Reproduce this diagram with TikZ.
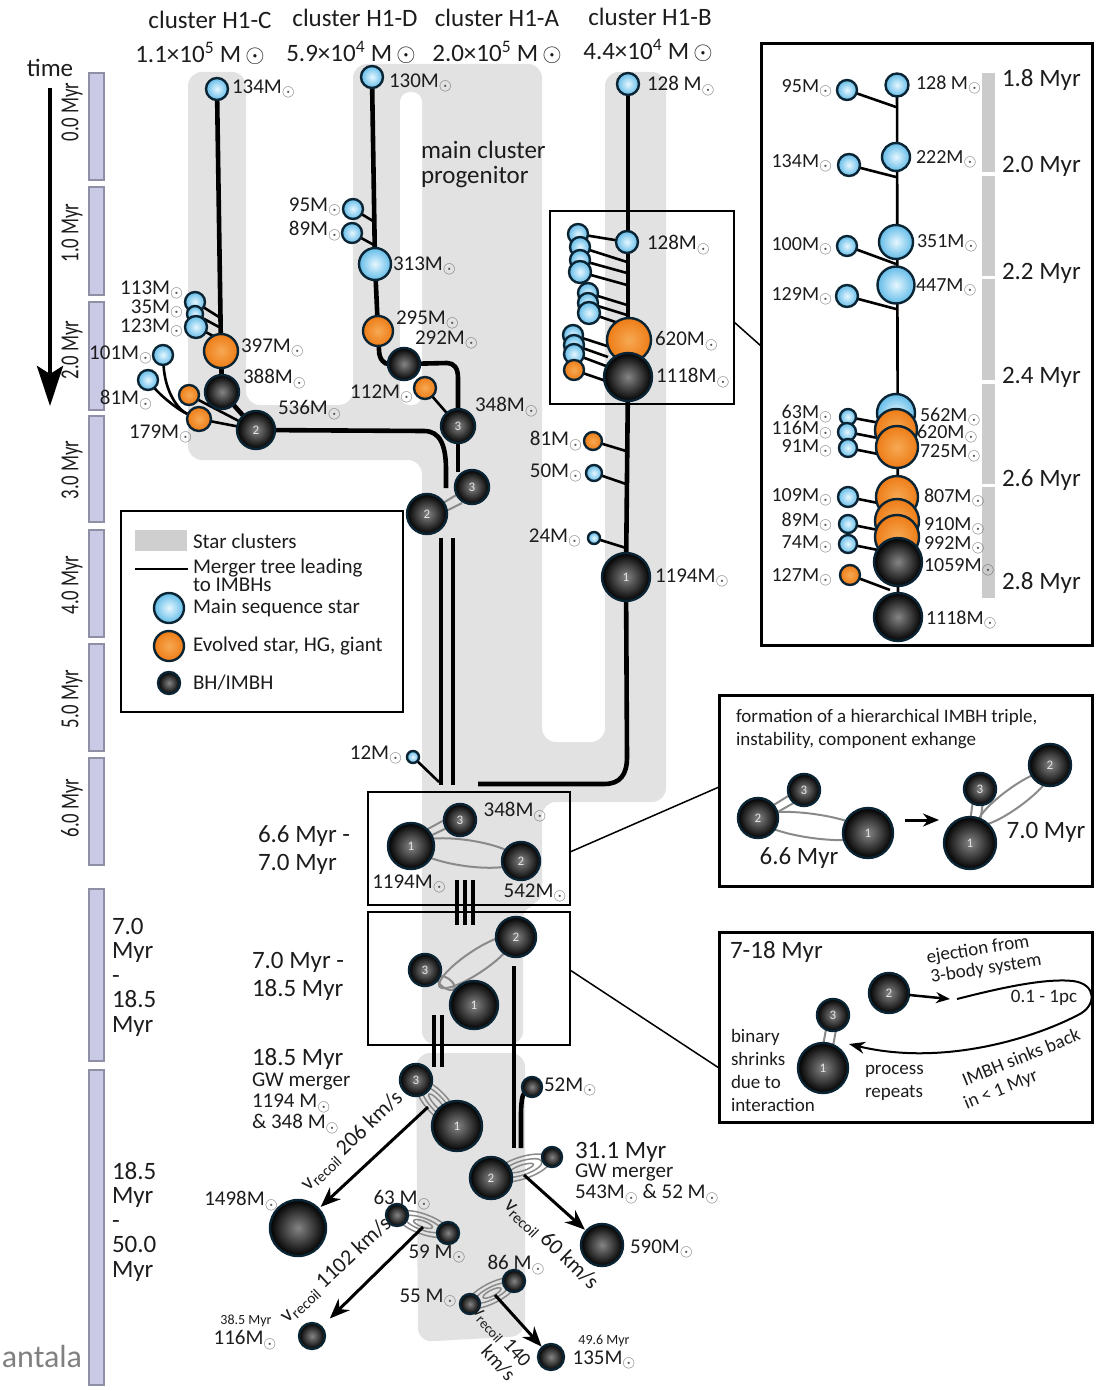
\documentclass[tikz,border=0pt]{standalone}
\usepackage{fontspec}
\setmainfont{Carlito}
\usetikzlibrary{arrows.meta}
\pgfdeclarelayer{bands}
\pgfdeclarelayer{lines}
\pgfsetlayers{bands,lines,main}
\definecolor{edgec}{HTML}{0B2433}
\definecolor{msin}{HTML}{E6F7FF}
\definecolor{msout}{HTML}{62BBE8}
\definecolor{evin}{HTML}{F6A954}
\definecolor{evout}{HTML}{EE7C16}
\definecolor{bhin}{HTML}{858585}
\definecolor{bhout}{HTML}{000000}
\definecolor{band}{HTML}{E2E2E2}
\definecolor{legband}{HTML}{CFCFCF}
\definecolor{ibar}{HTML}{CBCBCB}
\definecolor{barc}{HTML}{CAC9E6}
\definecolor{barb}{HTML}{8F8FA6}
\definecolor{orbc}{HTML}{8A8A8A}
\definecolor{sunc}{HTML}{555555}
\definecolor{txt}{HTML}{1C1C1C}
\newcommand{\fsz}[2]{\fontsize{#1}{#2}\selectfont}
\newcommand{\Ms}{M\raisebox{-0.35ex}{\textcolor{sunc}{\scalebox{0.8}{$\odot$}}}}
\newcommand{\Mbig}{M\,$\odot$}
\newcommand{\vrec}{v\textsubscript{recoil}}
\begin{document}
\begin{tikzpicture}[x=1pt,y=-1pt,
  every node/.style={inner sep=0pt, outer sep=0pt, text=txt},
  star/.style={circle, draw=edgec, line width=2.4pt, minimum size=#1},
  mstar/.style={star=#1, inner color=msin, outer color=msout},
  evstar/.style={star=#1, inner color=evin, outer color=evout},
  bhole/.style={star=#1, inner color=bhin, outer color=bhout, text=white!90!black, font=\fsz{13}{13}},
  lab/.style={font=\fsz{21}{21}},
  ilab/.style={font=\fsz{20}{20}},
  big/.style={font=\fsz{25}{25}},
  mid/.style={font=\fsz{19}{19}},
  rlab/.style={font=\fsz{22}{22}},
  tree/.style={line width=4.6pt},
  branch/.style={line width=2.6pt},
  orbit/.style={draw=orbc, line width=2pt},
  frame/.style={draw=black, line width=2pt},
  bigframe/.style={draw=black, line width=3pt},
  conn/.style={line width=1.5pt},
  recoil/.style={line width=3pt, -{Stealth[length=20pt,width=16pt]}},
]
\useasboundingbox (0,0) rectangle (1097,1391);

% ---------------- cluster bands ----------------
\begin{pgfonlayer}{bands}
\fill[band, rounded corners=14pt] (188,72) -- (246,72) -- (246,405) -- (353,405) -- (353,64) -- (542,64) -- (542,742) -- (605,742) -- (605,72) -- (666,72) -- (666,802) -- (542,802) -- (542,905) -- (523,905) -- (523,1045) -- (422,1045) -- (422,460) -- (188,460) -- cycle;
\fill[white, rounded corners=10pt] (400,92) rectangle (422,405);
\fill[band, rounded corners=14pt] (416,1053) -- (525,1053) -- (525,1336) -- (418,1342) -- cycle;
\end{pgfonlayer}

% ---------------- time axis ----------------
\node[big] (time) at (50,68) {time};
\coordinate (ta) at (50,88);
\coordinate (tb) at (50,406);
\draw[line width=4.5pt, -{Stealth[length=40pt,width=26pt,inset=8pt]}] (ta) -- (tb);
\foreach \a/\b in {73/180,187/295,302/410,416/522,530/637,644/751,758/865,889/1061,1070/1385}
  \filldraw[fill=barc, draw=barb, line width=1.2pt] (89,\a) rectangle (104,\b);
\foreach \y/\t/\n in {112/0.0/ta0,233/1.0/ta1,350/2.0/ta2,470/3.0/ta3,585/4.0/ta4,699/5.0/ta5,808/6.0/ta6}
  \node[rotate=90, font=\fsz{26}{26}] (\n) at (72,\y) {\scalebox{0.72}[1]{\t\ Myr}};
\node[big, align=left, anchor=north west, font=\fsz{25}{24.5}] (tl7) at (112,918) {7.0\\Myr\\-\\18.5\\Myr};
\node[big, align=left, anchor=north west, font=\fsz{25}{24.5}] (tl18) at (112,1162) {18.5\\Myr\\-\\50.0\\Myr};
\node[font=\fsz{32}{32}, text=gray] (ant) at (42,1356) {antala};

% ---------------- top labels ----------------
\node[big] (hC) at (210,20) {cluster H1-C};
\node[big] (hD) at (355,18) {cluster H1-D};
\node[big] (hA) at (497,18) {cluster H1-A};
\node[big] (hB) at (650,17) {cluster H1-B};
\node[big] (mC) at (200,53) {1.1×10\textsuperscript{5} \Mbig};
\node[big] (mD) at (351,52) {5.9×10\textsuperscript{4} \Mbig};
\node[big] (mA) at (497,52) {2.0×10\textsuperscript{5} \Mbig};
\node[big] (mB) at (648,50) {4.4×10\textsuperscript{4} \Mbig};
\node[big, align=left, anchor=west, font=\fsz{25}{25}] (prog) at (421,164) {main cluster\\progenitor};

% ---------------- cluster H1-C ----------------
\node[mstar=22pt] (c134) at (217,89) {};
\node[mstar=20pt] (c113) at (195,302) {};
\node[mstar=16pt] (c35) at (195,314) {};
\node[mstar=22pt] (c123) at (196,327) {};
\node[evstar=34pt] (c397) at (221,351) {};
\node[bhole=34pt] (c388) at (222,392) {};
\node[mstar=20pt] (c101) at (163,355) {};
\node[mstar=20pt] (c81) at (148,380) {};
\node[evstar=20pt] (co1) at (189,395) {};
\node[evstar=24pt] (c179) at (199,419) {};
\node[bhole=38pt] (c536) at (256,430) {2};
\begin{pgfonlayer}{lines}
\draw[tree] (c134) -- (c397);
\draw[branch] (c113) -- (219,317);
\draw[branch] (c35) -- (219,327);
\draw[branch] (c123) -- (219,339);
\draw[tree] (c397) -- (c388);
\draw[tree] (c388) -- (c536);
\draw[branch] (c101) .. controls (165,392) and (178,410) .. (c179);
\draw[branch] (c81) .. controls (160,395) and (178,410) .. (c179);
\draw[branch] (co1) -- (c536);
\draw[branch] (c179) -- (c536);
\draw[tree] (c536) -- (424,431) .. controls (440,431) and (446,445) .. (446,470) -- (446,488);
\end{pgfonlayer}
\node[lab, anchor=west] (lc134) at (232,89) {134\Ms};
\node[lab, anchor=east] (lc113) at (183,290) {113\Ms};
\node[lab, anchor=east] (lc35) at (183,309) {35\Ms};
\node[lab, anchor=east] (lc123) at (183,328) {123\Ms};
\node[lab, anchor=east] (lc101) at (152,355) {101\Ms};
\node[lab, anchor=east] (lc81) at (152,400) {81\Ms};
\node[lab, anchor=east] (lc179) at (192,434) {179\Ms};
\node[lab, anchor=west] (lc397) at (241,348) {397\Ms};
\node[lab, anchor=west] (lc388) at (243,379) {388\Ms};
\node[lab, anchor=west] (lc536) at (278,410) {536\Ms};

% ---------------- cluster H1-D ----------------
\node[mstar=22pt] (d130) at (372,77) {};
\node[mstar=20pt] (d95) at (353,209) {};
\node[mstar=20pt] (d89) at (352,233) {};
\node[mstar=32pt] (d313) at (375,264) {};
\node[evstar=30pt] (d295) at (378,331) {};
\node[bhole=32pt] (d292) at (404,364) {};
\node[evstar=22pt] (d112) at (425,388) {};
\node[bhole=34pt] (d348) at (458,426) {3};
\begin{pgfonlayer}{lines}
\draw[tree] (d130) -- (d313);
\draw[branch] (d95) -- (373,221);
\draw[branch] (d89) -- (374,245);
\draw[tree] (d313) -- (d295);
\draw[tree] (d295) -- (379,350) .. controls (379,360) and (385,364) .. (d292);
\draw[tree] (d292) -- (447,363) .. controls (454,363) and (458,368) .. (458,378) -- (d348);
\draw[branch] (d112) -- (d348);
\draw[tree] (d348) -- (458,472);
\end{pgfonlayer}
\node[lab, anchor=west] (ld130) at (389,83) {130\Ms};
\node[lab, anchor=east] (ld95) at (341,207) {95\Ms};
\node[lab, anchor=east] (ld89) at (341,231) {89\Ms};
\node[lab, anchor=west] (ld313) at (393,266) {313\Ms};
\node[lab, anchor=west] (ld295) at (396,320) {295\Ms};
\node[lab, anchor=west] (ld292) at (415,340) {292\Ms};
\node[lab, anchor=east] (ld112) at (413,394) {112\Ms};
\node[lab, anchor=west] (ld348) at (475,407) {348\Ms};

% merging pair 2-3
\node[bhole=40pt] (b2) at (427,514) {2};
\node[bhole=34pt] (b3) at (472,487) {3};
\node[mstar=12pt] (m12) at (413,757) {};
\begin{pgfonlayer}{lines}
\draw[orbit] (443,503) -- (458,494);
\draw[orbit] (446,511) -- (462,503);
\draw[tree] (441,538) -- (441,785);
\draw[tree] (453,538) -- (453,785);
\draw[branch] (m12) -- (439,782);
\end{pgfonlayer}
\node[lab, anchor=east] (l12) at (402,755) {12\Ms};

% ---------------- cluster H1-B ----------------
\node[mstar=22pt] (e128) at (628,84) {};
\node[mstar=22pt] (e128b) at (627,242) {};
\node[mstar=20pt] (es1) at (578,234) {};
\node[mstar=20pt] (es2) at (580,247) {};
\node[mstar=20pt] (es3) at (580,260) {};
\node[mstar=22pt] (es4) at (580,272) {};
\node[mstar=20pt] (es5) at (588,293) {};
\node[mstar=20pt] (es6) at (588,303) {};
\node[mstar=22pt] (es7) at (589,313) {};
\node[mstar=20pt] (es8) at (573,335) {};
\node[mstar=20pt] (es9) at (574,345) {};
\node[mstar=20pt] (es10) at (574,354) {};
\node[evstar=20pt] (es11) at (574,370) {};
\node[evstar=44pt] (e620) at (629,340) {};
\node[bhole=48pt] (e1118) at (628,377) {};
\node[evstar=18pt] (e81) at (593,441) {};
\node[mstar=16pt] (e50) at (594,473) {};
\node[mstar=12pt] (e24) at (594,538) {};
\node[bhole=48pt] (e1194) at (626,577) {1};
\begin{pgfonlayer}{lines}
\draw[tree] (e128) -- (e1118);
\draw[branch] (es1) -- (e128b);
\draw[branch] (es2) -- (627,262);
\draw[branch] (es3) -- (627,273);
\draw[branch] (es4) -- (627,285);
\draw[branch] (es5) -- (627,305);
\draw[branch] (es6) -- (627,315);
\draw[branch] (es7) -- (627,326);
\draw[branch] (es8) -- (610,347);
\draw[branch] (es9) -- (608,357);
\draw[branch] (es10) -- (606,366);
\draw[branch] (es11) -- (606,381);
\draw[tree] (e1118) -- (e1194);
\draw[branch] (e81) -- (626,451);
\draw[branch] (e50) -- (626,484);
\draw[branch] (e24) -- (626,548);
\draw[tree] (e1194) -- (627,757) .. controls (627,775) and (620,784) .. (604,784) -- (478,784);
\end{pgfonlayer}
\node[lab, anchor=west] (le128) at (647,86) {128 \Ms};
\node[lab, anchor=west] (le128b) at (647,245) {128\Ms};
\node[lab, anchor=west] (le620) at (655,341) {620\Ms};
\node[lab, anchor=west] (le1118) at (656,378) {1118\Ms};
\node[lab, anchor=east] (le81) at (582,441) {81\Ms};
\node[lab, anchor=east] (le50) at (582,473) {50\Ms};
\node[lab, anchor=east] (le24) at (581,538) {24\Ms};
\node[lab, anchor=west] (le1194) at (655,578) {1194\Ms};
\node[frame, minimum width=184pt, minimum height=193pt] (boxB) at (642,307.5) {};

% ---------------- inset ----------------
\node[bigframe, minimum width=331pt, minimum height=601pt] (inset) at (926.5,344.5) {};
\coordinate (cB) at (734,322);
\coordinate (cI) at (761,346);
\draw[conn] (cB) -- (cI);
\foreach \a/\b in {73/172,176/276,279/380,384/484,487/598}
  \fill[ibar] (982,\a) rectangle (995,\b);
\foreach \y/\t/\n in {80/1.8/it1,166/2.0/it2,273/2.2/it3,377/2.4/it4,480/2.6/it5,583/2.8/it6}
  \node[big, anchor=west] (\n) at (1002,\y) {\t\ Myr};
\node[mstar=23pt] (i128) at (897,85) {};
\node[mstar=20pt] (i95) at (847,90) {};
\node[mstar=28pt] (i222) at (896,157) {};
\node[mstar=22pt] (i134) at (849,165) {};
\node[mstar=34pt] (i351) at (896,242) {};
\node[mstar=20pt] (i100) at (847,246) {};
\node[mstar=37pt] (i447) at (896,285) {};
\node[mstar=22pt] (i129) at (847,296) {};
\node[mstar=38pt] (i562) at (896,413) {};
\node[evstar=42pt] (i620) at (896,430) {};
\node[evstar=42pt] (i725) at (897,447) {};
\node[mstar=16pt] (i63) at (848,417) {};
\node[mstar=18pt] (i116) at (847,432) {};
\node[mstar=18pt] (i91) at (848,448) {};
\node[evstar=42pt] (i807) at (897,497) {};
\node[evstar=44pt] (i910) at (897,521) {};
\node[evstar=44pt] (i992) at (897,537) {};
\node[bhole=48pt] (i1059) at (898,562) {};
\node[mstar=20pt] (i109) at (848,497) {};
\node[mstar=18pt] (i89) at (848,524) {};
\node[mstar=18pt] (i74) at (848,544) {};
\node[evstar=20pt] (i127) at (850,575) {};
\node[bhole=48pt] (i1118) at (898,617) {};
\begin{pgfonlayer}{lines}
\draw[branch] (i128) -- (i1118);
\draw[branch] (i95) -- (896,107);
\draw[branch] (i134) -- (896,177);
\draw[branch] (i100) -- (896,264);
\draw[branch] (i129) -- (896,309);
\draw[branch] (i63) -- (880,423);
\draw[branch] (i116) -- (878,438);
\draw[branch] (i91) -- (878,454);
\draw[branch] (i109) -- (878,503);
\draw[branch] (i89) -- (878,530);
\draw[branch] (i74) -- (878,550);
\draw[branch] (i127) -- (890,590);
\end{pgfonlayer}
\node[ilab, anchor=west] (li128) at (916,85) {128 \Ms};
\node[ilab, anchor=west] (li222) at (916,159) {222\Ms};
\node[ilab, anchor=west] (li351) at (917,243) {351\Ms};
\node[ilab, anchor=west] (li447) at (916,287) {447\Ms};
\node[ilab, anchor=west] (li562) at (920,417) {562\Ms};
\node[ilab, anchor=west] (li620) at (917,434) {620\Ms};
\node[ilab, anchor=west] (li725) at (920,453) {725\Ms};
\node[ilab, anchor=west] (li807) at (924,498) {807\Ms};
\node[ilab, anchor=west] (li910) at (924,526) {910\Ms};
\node[ilab, anchor=west] (li992) at (924,545) {992\Ms};
\node[ilab, anchor=west] (li1059) at (924,567) {1059\Ms};
\node[ilab, anchor=west] (li1118) at (926,620) {1118\Ms};
\node[ilab, anchor=east] (li95) at (832,88) {95\Ms};
\node[ilab, anchor=east] (li134) at (832,163) {134\Ms};
\node[ilab, anchor=east] (li100) at (832,246) {100\Ms};
\node[ilab, anchor=east] (li129) at (832,296) {129\Ms};
\node[ilab, anchor=east] (li63) at (832,414) {63\Ms};
\node[ilab, anchor=east] (li116) at (832,430) {116\Ms};
\node[ilab, anchor=east] (li91) at (832,448) {91\Ms};
\node[ilab, anchor=east] (li109) at (832,497) {109\Ms};
\node[ilab, anchor=east] (li89) at (832,522) {89\Ms};
\node[ilab, anchor=east] (li74) at (832,544) {74\Ms};
\node[ilab, anchor=east] (li127) at (832,577) {127\Ms};

% ---------------- legend ----------------
\node[frame, minimum width=282pt, minimum height=201pt] (legend) at (262,611.5) {};
\fill[legband] (135,530) rectangle (187,551);
\coordinate (lga) at (135,569);
\coordinate (lgb) at (188,569);
\draw[line width=2.6pt] (lga) -- (lgb);
\node[mstar=30pt] (lgm) at (169,608) {};
\node[evstar=30pt] (lge) at (169,646) {};
\node[bhole=22pt] (lgb2) at (169,683) {};
\node[lab, anchor=west] (lt1) at (193,541) {Star clusters};
\node[lab, anchor=west, align=left, font=\fsz{21}{17}] (lt2) at (193,575) {Merger tree leading\\to IMBHs};
\node[lab, anchor=west] (lt3) at (193,608) {Main sequence star};
\node[lab, anchor=west] (lt4) at (193,646) {Evolved star, HG, giant};
\node[lab, anchor=west] (lt5) at (193,683) {BH/IMBH};

% ---------------- triple 6.6 - 7.0 ----------------
\node[frame, minimum width=202pt, minimum height=113pt] (box1) at (469,848.5) {};
\node[bhole=46pt] (k1) at (411,846) {1};
\node[bhole=32pt] (k3) at (460,820) {3};
\node[bhole=38pt] (k2) at (521,861) {2};
\begin{pgfonlayer}{lines}
\draw[orbit, rotate around={-8:(466,853)}] (466,853) ellipse [x radius=52, y radius=13];
\draw[orbit] (426,830) -- (448,818);
\draw[orbit] (430,836) -- (451,826);
\draw[tree] (457,880) -- (457,925);
\draw[tree] (465,880) -- (465,925);
\draw[tree] (473,880) -- (473,925);
\end{pgfonlayer}
\node[lab] (lk3) at (515,812) {348\Ms};
\node[lab] (lk1) at (409,884) {1194\Ms};
\node[lab] (lk2) at (535,893) {542\Ms};
\node[big, align=left, anchor=west, font=\fsz{25}{28}] (lbox1) at (258,850) {6.6 Myr -\\7.0 Myr};

% ---------------- 7.0 - 18.5 ----------------
\node[frame, minimum width=202pt, minimum height=133pt] (box2) at (469,978.5) {};
\node[bhole=40pt] (j2) at (516,937) {2};
\node[bhole=32pt] (j3) at (425,970) {3};
\node[bhole=48pt] (j1) at (474,1005) {1};
\begin{pgfonlayer}{lines}
\draw[orbit, rotate around={34:(476,962)}] (476,962) ellipse [x radius=44, y radius=11];
\draw[orbit, rotate around={-35:(446,983)}] (446,983) ellipse [x radius=10, y radius=5];
\draw[tree] (514,966) -- (514,1148);
\draw[tree] (434,1015) -- (434,1067);
\draw[tree] (442,1015) -- (442,1067);
\end{pgfonlayer}
\node[big, align=left, anchor=west, font=\fsz{25}{28}] (lbox2) at (252,976) {7.0 Myr -\\18.5 Myr};

% connectors to the right boxes
\node[bigframe, minimum width=373pt, minimum height=191pt] (boxU) at (905.5,790.5) {};
\node[bigframe, minimum width=373pt, minimum height=190pt] (boxL) at (905.5,1027) {};
\coordinate (c1a) at (570,852);
\coordinate (c1b) at (719,787);
\coordinate (c2a) at (570,970);
\coordinate (c2b) at (719,1068);
\draw[conn] (c1a) -- (c1b);
\draw[conn] (c2a) -- (c2b);

% ---------------- upper right box ----------------
\node[mid, anchor=west, align=left, font=\fsz{19}{23}] (fu) at (736,729) {formation of a hierarchical IMBH triple,\\instability, component exhange};
\node[bhole=40pt] (u2) at (758,818) {2};
\node[bhole=32pt] (u3) at (804,790) {3};
\node[bhole=50pt] (u1) at (868,833) {1};
\node[bhole=32pt] (v3) at (980,789) {3};
\node[bhole=42pt] (v2) at (1050,765) {2};
\node[bhole=52pt] (v1) at (970,843) {1};
\begin{pgfonlayer}{lines}
\draw[orbit, rotate around={-8:(813,826)}] (813,826) ellipse [x radius=55, y radius=12];
\draw[orbit] (772,806) -- (793,793);
\draw[orbit] (776,813) -- (797,801);
\draw[orbit] (973,800) -- (970,822);
\draw[orbit] (983,802) -- (980,822);
\draw[orbit, rotate around={36:(1014,798)}] (1014,798) ellipse [x radius=44, y radius=10];
\end{pgfonlayer}
\coordinate (au1) at (905,820);
\coordinate (au2) at (939,820);
\draw[line width=3pt, -{Stealth[length=16pt,width=13pt]}] (au1) -- (au2);
\node[big] (l66) at (799,858) {6.6 Myr};
\node[big] (l70) at (1046,832) {7.0 Myr};

% ---------------- lower right box ----------------
\node[big, anchor=west] (l718) at (730,952) {7-18 Myr};
\node[bhole=40pt] (w2) at (889,993) {2};
\node[bhole=32pt] (w3) at (833,1015) {3};
\node[bhole=50pt] (w1) at (823,1068) {1};
\begin{pgfonlayer}{lines}
\draw[orbit] (826,1029) -- (823,1046);
\draw[orbit] (836,1030) -- (833,1046);
\end{pgfonlayer}
\coordinate (aw1) at (957,999);
\coordinate (aw2) at (849,1044);
\draw[line width=2.5pt, -{Stealth[length=14pt,width=11pt]}] (w2) -- (950,999);
\draw[line width=2pt, -{Stealth[length=16pt,width=12pt]}] (aw1) .. controls (1000,988) and (1045,978) .. (1073,981) .. controls (1097,984) and (1097,1006) .. (1078,1015) .. controls (1030,1040) and (940,1066) .. (aw2);
\node[mid, rotate=9] (le1) at (978,950) {ejection from};
\node[mid, rotate=9] (le2) at (986,969) {3-body system};
\node[mid] (lpc) at (1044,998) {0.1 - 1pc};
\node[mid, rotate=22] (lsink1) at (1021,1057) {IMBH sinks back};
\node[mid, rotate=22] (lsink2) at (1001,1090) {in < 1 Myr};
\node[mid, anchor=west, align=left, font=\fsz{19}{23}] (lproc) at (865,1083) {process\\repeats};
\node[mid, anchor=west, align=left, font=\fsz{19}{23}] (lbin) at (731,1070) {binary\\shrinks\\due to\\interaction};

% ---------------- mergers and recoils ----------------
\node[big, anchor=west] (l185) at (252,1059) {18.5 Myr};
\node[lab, anchor=north west, align=left, font=\fsz{21}{21}] (lgw1) at (252,1073) {GW merger\\1194 \Ms\\\& 348 \Ms};
\node[bhole=32pt] (g3) at (416,1080) {3};
\node[bhole=50pt] (g1) at (457,1126) {1};
\node[bhole=56pt] (f1498) at (298,1228) {};
\node[lab] (l1498) at (241,1201) {1498\Ms};
\coordinate (r1a) at (428,1107);
\begin{pgfonlayer}{lines}
\foreach \a/\b in {30/11,21/7,12/3}
  \draw[orbit, line width=1.5pt, rotate around={-48:(437,1103)}] (437,1103) ellipse [x radius=\a, y radius=\b];
\end{pgfonlayer}
\draw[recoil, shorten >=3pt] (r1a) -- (f1498);
\node[rlab, rotate=44] (v1) at (352,1141) {\vrec\ 206 km/s};

\node[bhole=20pt] (s52) at (532,1087) {};
\node[lab, anchor=west] (l52) at (544,1087) {52\Ms};
\begin{pgfonlayer}{lines}
\draw[tree] (s52) .. controls (522,1095) and (521,1105) .. (521,1115) -- (521,1148);
\end{pgfonlayer}
\node[bhole=42pt] (h2) at (491,1178) {2};
\node[bhole=20pt] (h52) at (552,1157) {};
\begin{pgfonlayer}{lines}
\foreach \a/\b in {30/11,21/7,12/3}
  \draw[orbit, line width=1.5pt, rotate around={18:(522,1168)}] (522,1168) ellipse [x radius=\a, y radius=\b];
\end{pgfonlayer}
\node[big, anchor=west] (l311) at (575,1152) {31.1 Myr};
\node[lab, anchor=north west, align=left, font=\fsz{21}{21}] (lgw2) at (575,1164) {GW merger\\543\Ms\ \& 52 \Ms};
\node[bhole=42pt] (f590) at (602,1245) {};
\node[lab, anchor=west] (l590) at (630,1249) {590\Ms};
\coordinate (r2a) at (524,1175);
\draw[recoil, shorten >=2pt] (r2a) -- (f590);
\node[rlab, rotate=-44] (v2) at (551,1244) {\vrec\ 60 km/s};

\node[bhole=22pt] (p63) at (397,1215) {};
\node[bhole=22pt] (p59) at (448,1233) {};
\begin{pgfonlayer}{lines}
\foreach \a/\b in {28/10,19/6,10/3}
  \draw[orbit, line width=1.5pt, rotate around={-20:(423,1224)}] (423,1224) ellipse [x radius=\a, y radius=\b];
\end{pgfonlayer}
\node[lab] (l63) at (402,1200) {63 \Ms};
\node[lab] (l59) at (437,1254) {59 \Ms};
\node[bhole=26pt] (f116) at (312,1336) {};
\node[font=\fsz{14}{14}] (l385) at (246,1321) {38.5 Myr};
\node[lab] (l116) at (245,1340) {116\Ms};
\coordinate (r3a) at (423,1227);
\draw[recoil, shorten >=12pt] (r3a) -- (f116);
\node[rlab, rotate=43] (v3) at (336,1270) {\vrec\ 1102 km/s};

\node[bhole=22pt] (q86) at (514,1281) {};
\node[bhole=20pt] (q55) at (470,1304) {};
\begin{pgfonlayer}{lines}
\foreach \a/\b in {28/10,19/6,10/3}
  \draw[orbit, line width=1.5pt, rotate around={27:(492,1293)}] (492,1293) ellipse [x radius=\a, y radius=\b];
\end{pgfonlayer}
\node[lab] (l86) at (516,1265) {86 \Ms};
\node[lab] (l55) at (428,1298) {55 \Ms};
\node[bhole=26pt] (f135) at (551,1357) {};
\node[font=\fsz{14}{14}] (l496) at (604,1341) {49.6 Myr};
\node[lab] (l135) at (604,1360) {135\Ms};
\coordinate (r4a) at (495,1295);
\draw[recoil, shorten >=1pt] (r4a) -- (f135);
\node[rlab, rotate=-48, align=right, font=\fsz{20}{21}] (v4) at (494,1343) {\vrec\ 140\\km/s};

\end{tikzpicture}
\end{document}
